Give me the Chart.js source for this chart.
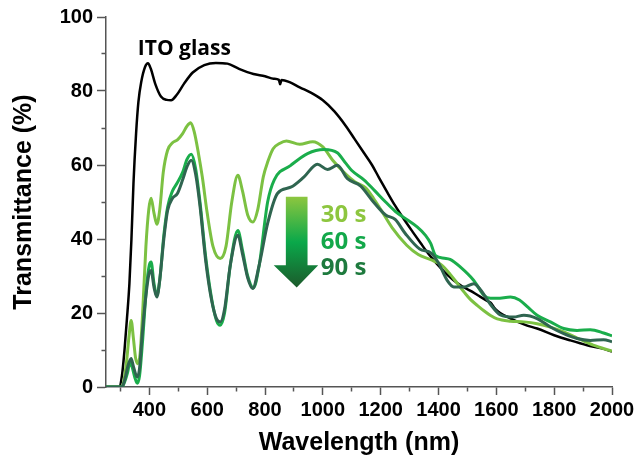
<!doctype html>
<html>
  <head>
    <title>ITO transmittance</title>
    <script src="https://cdn.jsdelivr.net/npm/chart.js@4.4.1/dist/chart.umd.min.js"></script>
    <style>
      html, body { margin: 0; padding: 0; background: #fff; }
      #wrap { width: 636px; height: 460px; }
    </style>
  </head>

  <body>
    <div id="wrap"><canvas id="canvas" width="636" height="460"></canvas></div>

    <script>
      // wavelength (nm) / transmittance (%)
      const itoWl = [250, 295, 305, 314, 322, 331, 338, 345, 354, 362, 372, 385, 395, 405, 420, 440, 460, 475, 495, 520, 550, 590, 630, 670, 710, 760, 800, 830, 848, 852, 857, 885, 920, 960, 1000, 1040, 1080, 1110, 1140, 1170, 1194, 1223, 1250, 1280, 1310, 1338, 1365, 1393, 1422, 1450, 1480, 1511, 1536, 1568, 1580, 1592, 1605, 1650, 1700, 1741, 1800, 1856, 1914, 1960, 2000];
      const itoT  = [0, 0, 3, 10, 18, 28, 40, 55, 68.5, 77, 82.5, 86.5, 87.5, 86, 82, 78.5, 77.6, 77.5, 79, 82, 85, 87, 87.6, 87.4, 86, 84.6, 84, 83.3, 83, 81.8, 83, 82.4, 81, 79.5, 77.5, 74.5, 70.5, 67, 63.5, 60, 56.6, 52.6, 49, 45.4, 42, 38.9, 36, 33.4, 31, 29, 27.3, 26, 24.8, 23.3, 22.8, 21.5, 20.5, 18.5, 16.8, 15.8, 14, 12.6, 11.3, 10.5, 9.6];

      const s30Wl = [250, 300, 310, 320, 330, 337, 345, 352, 360, 368, 378, 388, 398, 406, 416, 426, 436, 448, 463, 480, 497, 515, 530, 543, 555, 570, 583, 600, 620, 645, 665, 685, 706, 722, 740, 758, 775, 794, 810, 828, 850, 874, 920, 965, 1000, 1034, 1080, 1110, 1148, 1175, 1200, 1240, 1290, 1330, 1373, 1410, 1440, 1465, 1490, 1511, 1535, 1557, 1580, 1603, 1649, 1695, 1741, 1787, 1833, 1878, 1935, 2000];
      const s30T  = [0, 0, 1, 6, 14, 18, 13, 8, 6.3, 9, 22, 38, 48, 51, 47, 44, 48, 58, 64, 66, 66.8, 68.5, 70.5, 71.4, 69, 63, 56.8, 47, 38, 34.7, 38, 50, 57.2, 53, 46.5, 44.6, 48, 56.8, 61, 64.4, 65.8, 66.5, 65.6, 66.3, 64.9, 61.3, 57.5, 55.5, 53.8, 51, 48, 43, 38.3, 35.8, 34.4, 33, 30.5, 28, 25.5, 23.6, 22, 20.6, 19.3, 18.4, 17.8, 17.6, 17.1, 16.2, 14.9, 13.3, 11.3, 9.7];

      const s60Wl = [250, 305, 315, 325, 333, 340, 350, 358, 366, 376, 390, 400, 406, 416, 426, 436, 450, 463, 480, 495, 515, 530, 545, 560, 575, 595, 615, 632, 645, 660, 680, 706, 722, 740, 760, 780, 809, 832, 889, 947, 1004, 1050, 1079, 1100, 1142, 1180, 1217, 1250, 1286, 1327, 1355, 1373, 1390, 1420, 1440, 1476, 1522, 1557, 1580, 1603, 1649, 1680, 1710, 1741, 1787, 1833, 1879, 1925, 1971, 2000];
      const s60T  = [0, 0, 1.5, 4, 6.8, 5.5, 2.5, 1, 3, 12, 27, 33, 33.8, 28, 24.8, 29, 41, 48.6, 53, 55, 58, 61.5, 62.9, 59, 50, 35, 24, 18, 16.7, 20, 33, 42.3, 37, 30, 26.8, 33, 50, 56, 59.9, 63.1, 64.2, 63.3, 60.5, 58.5, 56, 53, 50, 47.5, 45.5, 43.2, 41, 38.8, 35.5, 34.8, 34.5, 32.4, 28.8, 24.8, 24, 24, 24.3, 23.5, 21.5, 19.4, 17.6, 15.8, 15.3, 15.5, 14.6, 13.8];

      const s90Wl = [250, 305, 315, 327, 337, 345, 358, 366, 376, 390, 400, 406, 416, 426, 436, 450, 463, 480, 497, 515, 530, 545, 560, 575, 595, 615, 632, 645, 660, 680, 706, 722, 740, 757, 780, 809, 843, 889, 935, 981, 1016, 1050, 1085, 1131, 1170, 1217, 1250, 1285, 1335, 1375, 1400, 1430, 1453, 1488, 1522, 1545, 1580, 1614, 1660, 1695, 1741, 1787, 1833, 1879, 1925, 1971, 2000];
      const s90T  = [0, 0, 2, 6, 7.7, 5.5, 2.7, 5, 15, 26, 31, 31.5, 27, 24.3, 29, 40, 47.7, 51, 52.3, 56, 59.5, 61.3, 57.5, 49, 34, 23.5, 18.5, 17.6, 21, 33, 41, 36, 29.5, 26.6, 33, 44.2, 52.3, 54, 56.8, 60.2, 58.8, 59.9, 56.3, 54.3, 50.5, 46.5, 45.3, 41.5, 37.3, 36.2, 33.5, 28.8, 27, 27, 27.9, 26.3, 22.3, 19.5, 18.9, 19.4, 18.5, 16.2, 14.4, 13.1, 12.6, 12.8, 12.2];

      const xTicks = [300, 400, 500, 600, 700, 800, 900, 1000, 1100, 1200, 1300, 1400, 1500, 1600, 1700, 1800, 1900, 2000];
      const timeLabels = ['30 s', '60 s', '90 s'];

      const AXIS = '#555';
      const pts = (wl, t) => wl.map((w, i) => ({ x: w, y: t[i] }));

      // text and arrow drawn over the plot, placed in data units
      const notes = {
        id: 'notes',
        afterDatasetsDraw(chart) {
          const { ctx, scales: { x, y } } = chart;
          ctx.save();
          ctx.textBaseline = 'alphabetic';
          ctx.textAlign = 'left';
          ctx.font = 'bold 21px "Open Sans"';
          ctx.fillStyle = '#000';
          ctx.fillText('ITO glass', x.getPixelForValue(360), y.getPixelForValue(89.6));

          // gradient arrow
          const hl = x.getPixelForValue(830), sl = x.getPixelForValue(872);
          const sr = x.getPixelForValue(947), hr = x.getPixelForValue(984);
          const tipX = (sl + sr) / 2;
          const top = y.getPixelForValue(51.4), neck = y.getPixelForValue(32.9), tip = y.getPixelForValue(26.9);
          const g = ctx.createLinearGradient(0, top, 0, tip);
          g.addColorStop(0, '#8dc63f');
          g.addColorStop(0.5, '#0aa84a');
          g.addColorStop(1, '#1c5a2b');
          ctx.fillStyle = g;
          ctx.beginPath();
          ctx.moveTo(sl, top);
          ctx.lineTo(sr, top);
          ctx.lineTo(sr, neck);
          ctx.lineTo(hr, neck);
          ctx.lineTo(tipX, tip);
          ctx.lineTo(hl, neck);
          ctx.lineTo(sl, neck);
          ctx.closePath();
          ctx.fill();

          const cols = ['#8dc63f', '#13a84a', '#1e7a3e'];
          const base = [44.6, 37.4, 30.2];
          ctx.font = 'bold 24px "Open Sans"';
          timeLabels.forEach((t, i) => {
            ctx.fillStyle = cols[i];
            ctx.fillText(t, x.getPixelForValue(993), y.getPixelForValue(base[i]));
          });
          ctx.restore();
        }
      };

      const line = (label, data, color, width) => ({
        label: label,
        data: data,
        borderColor: color,
        backgroundColor: color,
        borderWidth: width,
        pointRadius: 0,
        fill: false,
        cubicInterpolationMode: 'monotone'
      });

      const config = {
        type: 'line',
        data: {
          datasets: [
            line('90 s', pts(s90Wl, s90T), '#2f6550', 3),
            line('60 s', pts(s60Wl, s60T), '#1aad4b', 3),
            line('30 s', pts(s30Wl, s30T), '#7cc142', 3),
            line('ITO glass', pts(itoWl, itoT), '#000000', 2.5)
          ]
        },
        options: {
          responsive: false,
          animation: false,
          devicePixelRatio: 1,
          layout: { padding: { top: 17, right: 24, left: 0, bottom: 0 } },
          plugins: { legend: { display: false }, tooltip: { enabled: false } },
          scales: {
            x: {
              type: 'linear',
              min: 250,
              max: 2000,
              afterBuildTicks: function(scale) {
                scale.ticks = xTicks.map(v => ({ value: v }));
              },
              afterFit: function(scale) {
                scale.height = 73;
                scale.paddingLeft = 0;
                scale.paddingRight = 0;
              },
              ticks: {
                autoSkip: false,
                maxRotation: 0,
                padding: 3,
                color: '#000',
                font: { family: '"Liberation Sans", Arial', weight: 'bold', size: 20 },
                callback: v => (v % 200 === 0 ? v : '')
              },
              grid: {
                drawOnChartArea: false,
                drawTicks: true,
                tickLength: 8,
                tickWidth: 1.5,
                tickColor: AXIS,
                tickBorderDash: ctx => (ctx.tick && ctx.tick.value % 200 !== 0 ? [4, 20] : [])
              },
              border: { display: true, color: AXIS, width: 1.5 },
              title: {
                display: true,
                text: 'Wavelength (nm)',
                color: '#000',
                padding: { top: 0, bottom: 2 },
                font: { family: '"Liberation Sans", Arial', weight: 'bold', size: 25 }
              }
            },
            y: {
              min: 0,
              max: 100,
              afterFit: function(scale) {
                scale.width = 106;
                scale.paddingTop = 0;
                scale.paddingBottom = 0;
              },
              ticks: {
                stepSize: 10,
                autoSkip: false,
                padding: 4,
                color: '#000',
                font: { family: '"Liberation Sans", Arial', weight: 'bold', size: 20 },
                callback: v => (v % 20 === 0 ? v : '')
              },
              grid: {
                drawOnChartArea: false,
                drawTicks: true,
                tickLength: 9,
                tickWidth: 1.5,
                tickColor: AXIS,
                tickBorderDash: ctx => (ctx.tick && ctx.tick.value % 20 !== 0 ? [0, 4.5, 4.5, 0] : [])
              },
              border: { display: true, color: AXIS, width: 1.5 },
              title: {
                display: true,
                text: 'Transmittance (%)',
                color: '#000',
                padding: { top: 9, bottom: 0 },
                font: { family: '"Liberation Sans", Arial', weight: 'bold', size: 25 }
              }
            }
          }
        },
        plugins: [notes]
      };

      window.onload = function() {
        let ctx = document.getElementById('canvas').getContext('2d');
        window.myLine = new Chart(ctx, config);
      };
    </script>
  </body>
</html>
